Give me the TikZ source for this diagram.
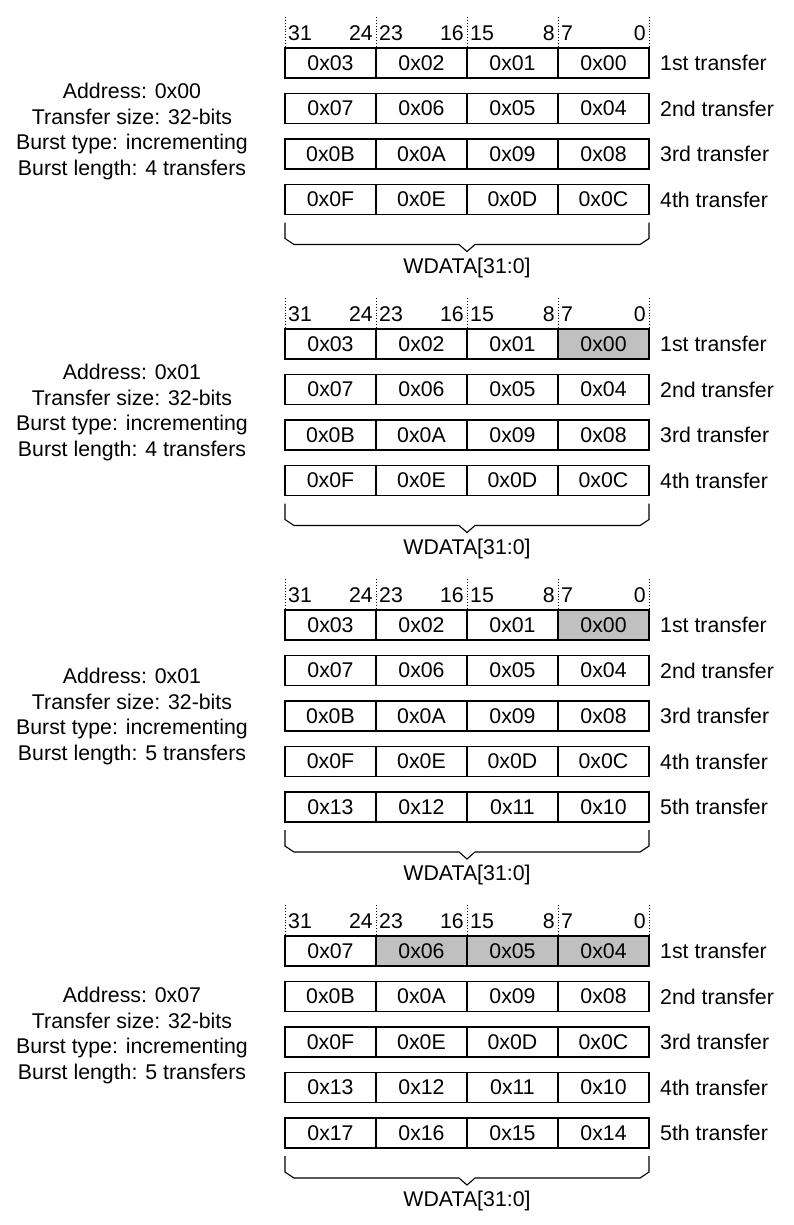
\documentclass[tikz,border=0pt]{standalone}
\usepackage{fontspec}
\setmainfont{Liberation Sans}
\usepackage{tikz}
\usetikzlibrary{positioning}
\usepackage{xcolor}
\definecolor{shade}{RGB}{192,192,192}
\newcommand{\figfont}{\fontsize{21.3}{25.8}\selectfont}

\begin{document}
\begin{tikzpicture}[x=1pt,y=-1pt,
  every node/.style={font=\figfont},
  cell/.style={draw,line width=1.3pt,minimum width=91pt,minimum height=30pt,inner sep=0pt},
  bits/.style={inner sep=0pt},
  guide/.style={dotted,line width=0.9pt},
  brace/.style={line width=1.1pt}]
\useasboundingbox (0,0) rectangle (793,1225);
% panel/top row/rows/first byte/text centre/address/length/first shaded column
\foreach \p/\top/\n/\base/\mid/\addr/\len/\from in
  {1/63/4/0/131.5/0x00/4/4, 2/344/4/0/412.5/0x01/4/3,
   3/625/5/0/716.5/0x01/5/3, 4/951/5/4/1035.5/0x07/5/1} {
  % bit numbers
  \foreach \c/\hi/\lo in {0/31/24,1/23/16,2/15/8,3/7/0} {
    \node[bits,anchor=west] (hi-\p-\c) at (285+91*\c+3,\top-30) {\hi};
    \node[bits,anchor=east] (lo-\p-\c) at (285+91*\c+88,\top-30) {\lo};
  }
  \foreach \c in {0,...,4}
    \draw[guide] (285+91*\c,\top-46) -- (285+91*\c,\top-15);
  % data beats
  \foreach \ord [count=\r from 0] in {1st,2nd,3rd,4th,5th} {
    \ifnum\r<\n
      \foreach \c in {0,...,3} {
        \pgfmathtruncatemacro\val{\base+4*\r+3-\c}
        \pgfmathparse{Hex(\val)}\let\hexval\pgfmathresult
        \ifnum\r=0 \ifnum\c<\from \def\fillc{white}\else\def\fillc{shade}\fi
        \else \def\fillc{white}\fi
        \node[cell,fill=\fillc] (w-\p-\r-\c) at (330.5+91*\c,\top+45.5*\r)
          {0x\ifnum\val<16 0\fi\hexval};
      }
      \node[bits,anchor=west] (xfer-\p-\r) at (660,\top+45.5*\r) {\ord\ transfer};
    \fi
  }
  \node[align=center] (info-\p) at (132,\mid)
    {Address: \addr\\Transfer size: 32-bits\\Burst type: incrementing\\Burst length: \len\ transfers};
  % bus brace
  \pgfmathsetmacro\ybot{\top+45.5*(\n-1)+23}
  \draw[brace] (285,\ybot) -- ++(0,16) -- ++(9,6) -- (459,\ybot+22)
    -- (467,\ybot+29) coordinate (tip-\p) -- (475,\ybot+22) -- (640,\ybot+22)
    -- ++(9,-6) -- ++(0,-16);
  \node (bus-\p) at (467,\ybot+45) {WDATA[31:0]};
}
\end{tikzpicture}
\end{document}
